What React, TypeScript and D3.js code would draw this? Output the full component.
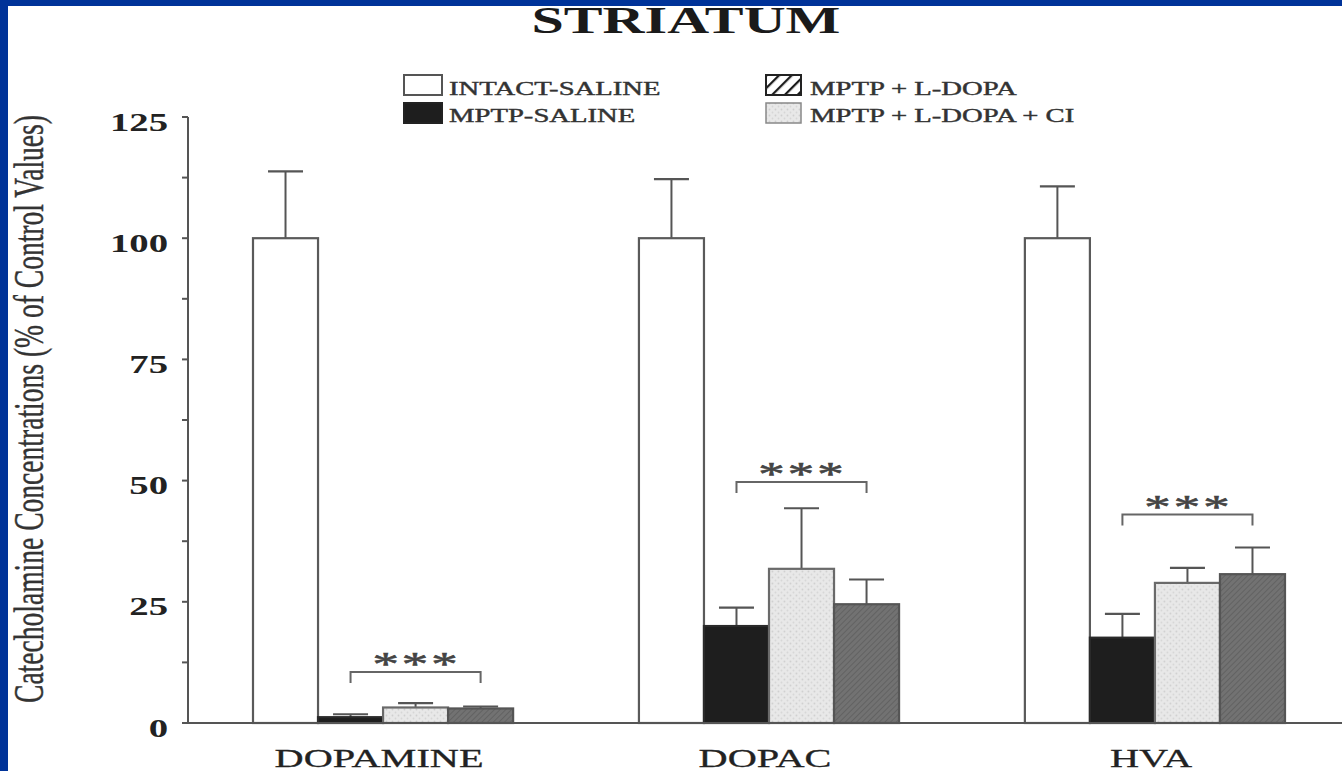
import React from "react";
import * as d3 from "d3";

const categories = ["DOPAMINE", "DOPAC", "HVA"];
const seriesNames = ["INTACT-SALINE", "MPTP-SALINE", "MPTP + L-DOPA + CI", "MPTP + L-DOPA"];
const intactSaline = [100, 100, 100];
const intactSalineErr = [113.8, 112.2, 110.7];
const mptpSaline = [1.2, 20, 17.6];
const mptpSalineErr = [1.8, 23.8, 22.5];
const mptpLdopaCi = [3.2, 31.8, 28.9];
const mptpLdopaCiErr = [4.1, 44.3, 32];
const mptpLdopa = [3.0, 24.5, 30.7];
const mptpLdopaErr = [3.4, 29.6, 36.2];
const bracketLevels = [10.5, 49.7, 43];
const yTicks = [0, 12.5, 25, 37.5, 50, 62.5, 75, 87.5, 100, 112.5, 125];
const yTickLabels = [0, 25, 50, 75, 100, 125];

const W = 1342;
const H = 771;
const SX = 1.55;
const FONT = "'Liberation Serif', 'Times New Roman', serif";

const values = [intactSaline, mptpSaline, mptpLdopaCi, mptpLdopa];
const errs = [intactSalineErr, mptpSalineErr, mptpLdopaCiErr, mptpLdopaErr];
const fills = ["#ffffff", "#1e1e1e", "url(#dots)", "url(#darkTex)"];
const strokes = ["#5a5a5a", "#2a2a2a", "#6a6a6a", "#555555"];

export default function App() {
  const y = d3.scaleLinear().domain([0, 125]).range([723, 117]);
  const x0 = d3.scaleBand<string>().domain(categories).range([253, 1285]).paddingInner(0.326).paddingOuter(0);
  const x1 = d3.scaleBand<string>().domain(seriesNames).range([0, x0.bandwidth()]).padding(0);
  const axisX = 188;

  const sText = (x: number, yy: number, txt: string, size: number, opts: any = {}) => (
    <text
      transform={`translate(${x},${yy}) scale(${SX},1)`}
      fontFamily={FONT}
      fontSize={size}
      textAnchor={opts.anchor || "start"}
      fontWeight={opts.weight || "normal"}
      fill={opts.fill || "#222"}
      stroke={opts.heavy ? opts.fill || "#222" : "none"}
      strokeWidth={opts.heavy || 0}
      letterSpacing={opts.ls || 0}
    >
      {txt}
    </text>
  );

  return (
    <svg width={W} height={H} style={{ position: "absolute", left: 0, top: 0, display: "block", background: "#fff" }}>
      <defs>
        <pattern id="dots" width="6" height="6" patternUnits="userSpaceOnUse">
          <rect width="6" height="6" fill="#e8e8e8" />
          <circle cx="1.5" cy="1.5" r="0.9" fill="#cfcfcf" />
          <circle cx="4.5" cy="4.5" r="0.9" fill="#d6d6d6" />
        </pattern>
        <pattern id="darkTex" width="4" height="4" patternUnits="userSpaceOnUse" patternTransform="rotate(45)">
          <rect width="4" height="4" fill="#727272" />
          <line x1="0" y1="0" x2="0" y2="4" stroke="#5e5e5e" strokeWidth="1.6" />
        </pattern>
        <pattern id="hatch" width="9" height="9" patternUnits="userSpaceOnUse" patternTransform="rotate(45)">
          <rect width="9" height="9" fill="#fff" />
          <line x1="0" y1="0" x2="0" y2="9" stroke="#1a1a1a" strokeWidth="4.5" />
        </pattern>
      </defs>
      <rect x={0} y={0} width={W} height={H} fill="#fff" />

      {/* title */}
      {sText(686, 33, "STRIATUM", 37.5, { anchor: "middle", weight: "bold", fill: "#1a1a1a" })}

      {/* legend */}
      <rect x={404} y={75} width={38} height={20} fill="#fff" stroke="#555" strokeWidth={2} />
      <rect x={404} y={103} width={38} height={20} fill="#1e1e1e" stroke="#222" strokeWidth={2} />
      {sText(449, 95, "INTACT-SALINE", 18.5, { fill: "#333", heavy: 0.4 })}
      {sText(449, 122, "MPTP-SALINE", 18.5, { fill: "#333", heavy: 0.4 })}
      <rect x={766} y={75} width={35} height={20} fill="url(#hatch)" stroke="#222" strokeWidth={2} />
      <rect x={766} y={103} width={35} height={20} fill="url(#dots)" stroke="#888" strokeWidth={1.5} />
      {sText(810, 95, "MPTP + L-DOPA", 18.5, { fill: "#333", heavy: 0.4 })}
      {sText(810, 122, "MPTP + L-DOPA + CI", 18.5, { fill: "#333", heavy: 0.4 })}

      {/* y label */}
      <text
        transform={`translate(43,409) scale(${SX},1) rotate(-90)`}
        fontFamily={FONT}
        fontSize={27.5}
        textAnchor="middle"
        fill="#333"
        stroke="#333"
        strokeWidth={0.3}
        textLength={588}
        lengthAdjust="spacingAndGlyphs"
      >
        Catecholamine Concentrations (% of Control Values)
      </text>

      {/* bars */}
      {categories.map((c, ci) => (
        <g key={c} transform={`translate(${x0(c)},0)`}>
          {seriesNames.map((s, si) => {
            const v = values[si][ci];
            const e = errs[si][ci];
            const bx = x1(s) as number;
            const bw = x1.bandwidth();
            const cx = bx + bw / 2;
            return (
              <g key={s}>
                <line x1={cx} x2={cx} y1={y(v)} y2={y(e)} stroke="#555" strokeWidth={2} />
                <line x1={cx - 17.5} x2={cx + 17.5} y1={y(e)} y2={y(e)} stroke="#555" strokeWidth={2.2} />
                <rect x={bx} y={y(v)} width={bw} height={y(0) - y(v)} fill={fills[si]} stroke={strokes[si]} strokeWidth={2.2} />
              </g>
            );
          })}
          {/* bracket */}
          {(() => {
            const bl = (x1(seriesNames[1]) as number) + x1.bandwidth() / 2;
            const br = (x1(seriesNames[3]) as number) + x1.bandwidth() / 2;
            const by = y(bracketLevels[ci]);
            const mid = (x1(seriesNames[2]) as number) + x1.bandwidth() / 2;
            return (
              <g>
                <path d={`M${bl},${by + 11}V${by}H${br}V${by + 11}`} fill="none" stroke="#666" strokeWidth={2} />
                {sText(mid + 1, by + 3, "***", 34, { anchor: "middle", fill: "#444", heavy: 0.6, ls: 2 })}
              </g>
            );
          })()}
          {sText(x0.bandwidth() / 2 - 4, 767, c, 26, { anchor: "middle", fill: "#222", heavy: 0.3 })}
        </g>
      ))}

      {/* axes */}
      <line x1={axisX} x2={axisX} y1={y(125)} y2={y(0)} stroke="#555" strokeWidth={2} />
      <line x1={axisX} x2={W} y1={y(0)} y2={y(0)} stroke="#555" strokeWidth={2} />
      {yTicks.map((t) => (
        <line key={t} x1={axisX - 6} x2={axisX} y1={y(t)} y2={y(t)} stroke="#555" strokeWidth={2} />
      ))}
      {yTickLabels.map((t) => (
        <g key={t}>{sText(168, y(t) + 13.5, String(t), 25, { anchor: "end", weight: "bold", fill: "#222" })}</g>
      ))}

      {/* slide border */}
      <rect x={0} y={0} width={W} height={6} fill="#003399" />
      <rect x={0} y={0} width={8} height={H} fill="#003399" />
    </svg>
  );
}
